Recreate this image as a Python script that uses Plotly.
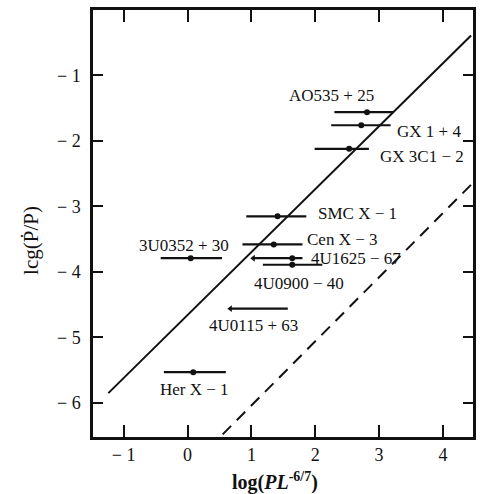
import plotly.graph_objects as go

# Sources: dot position, horizontal extent and vertical position
sources = ["AO535 + 25", "GX 1 + 4", "GX 3C1 − 2", "SMC X − 1", "Cen X − 3",
           "3U0352 + 30", "4U1625 − 67", "4U0900 − 40", "4U0115 + 63", "Her X − 1"]
x_dot = [2.81, 2.72, 2.53, 1.41, 1.35, 0.05, 1.64, 1.64, None, 0.09]
x_lo = [2.30, 2.25, 1.99, 0.92, 0.86, -0.42, 1.03, 1.18, 0.67, -0.37]
x_hi = [3.23, 3.18, 2.84, 1.86, 1.80, 0.54, 1.80, 2.11, 1.57, 0.60]
y_val = [-1.56, -1.76, -2.12, -3.15, -3.58, -3.79, -3.79, -3.89, -4.56, -5.53]
left_arrow = [False, False, False, False, False, False, True, False, True, False]

# Label anchor points
label_x = [1.58, 3.26, 3.00, 2.02, 1.86, 0.67, 1.91, 1.74, 1.03, 0.11]
label_y = [-1.30, -1.86, -2.23, -3.10, -3.50, -3.60, -3.80, -4.18, -4.82, -5.80]
label_anchor = ["left", "left", "left", "left", "left", "right", "left",
                "center", "center", "center"]

# Model lines
solid_x = [-1.24, 4.44]
solid_y = [-5.85, -0.39]
dash_x = [0.55, 4.50]
dash_y = [-6.48, -2.61]

x_ticks = [-1, 0, 1, 2, 3, 4]
x_ticktext = ["− 1", "0", "1", "2", "3", "4"]
y_ticks = [-6, -5, -4, -3, -2, -1]
y_ticktext = ["− 6", "− 5", "− 4", "− 3", "− 2", "− 1"]

FONT = "Liberation Serif"
INK = "#111111"

fig = go.Figure()

fig.add_trace(go.Scatter(x=solid_x, y=solid_y, mode="lines",
                         line=dict(color=INK, width=2), hoverinfo="skip"))
fig.add_trace(go.Scatter(x=dash_x, y=dash_y, mode="lines",
                         line=dict(color=INK, width=2, dash="12px,8px"),
                         hoverinfo="skip"))

for i in range(len(sources)):
    fig.add_trace(go.Scatter(x=[x_lo[i], x_hi[i]], y=[y_val[i], y_val[i]],
                             mode="lines", line=dict(color=INK, width=2.2),
                             hoverinfo="skip"))
    if left_arrow[i]:
        fig.add_trace(go.Scatter(x=[x_lo[i]], y=[y_val[i]], mode="markers",
                                 marker=dict(symbol="triangle-left", size=6,
                                             color=INK),
                                 hoverinfo="skip"))

dots = [(x, y) for x, y in zip(x_dot, y_val) if x is not None]
fig.add_trace(go.Scatter(x=[d[0] for d in dots], y=[d[1] for d in dots],
                         mode="markers", marker=dict(size=6, color=INK),
                         hoverinfo="skip"))

for name, lx, ly, anc in zip(sources, label_x, label_y, label_anchor):
    fig.add_annotation(x=lx, y=ly, text=name, showarrow=False, xanchor=anc,
                       yanchor="middle", borderpad=0,
                       font=dict(family=FONT, size=17, color=INK))

fig.add_annotation(xref="paper", yref="paper", x=0.48, y=-0.105,
                   text="<b>log(<i>PL</i><sup>-6/7</sup>)</b>", showarrow=False,
                   xanchor="center", yanchor="middle",
                   font=dict(family=FONT, size=20, color=INK))
fig.add_annotation(xref="paper", yref="paper", x=-0.165, y=0.46,
                   text="lcg(Ṗ/P)", showarrow=False, textangle=-90,
                   xanchor="center", yanchor="middle",
                   font=dict(family=FONT, size=21, color=INK))

axis_common = dict(showgrid=False, zeroline=False, showline=True,
                   linecolor=INK, linewidth=2.5, mirror="ticks",
                   ticks="inside", tickcolor=INK, tickwidth=2,
                   tickfont=dict(family=FONT, size=18, color=INK))

fig.update_xaxes(range=[-1.48, 4.47], tickvals=x_ticks, ticktext=x_ticktext,
                 ticklen=12, ticklabelstandoff=0, **axis_common)
fig.update_yaxes(range=[-6.52, 0.0], tickvals=y_ticks, ticktext=y_ticktext,
                 ticklen=10, ticklabelstandoff=6, **axis_common)

fig.update_layout(width=483, height=494, showlegend=False,
                  paper_bgcolor="white", plot_bgcolor="white",
                  margin=dict(l=93, r=8, t=7, b=57))

fig.write_html("out.html")
